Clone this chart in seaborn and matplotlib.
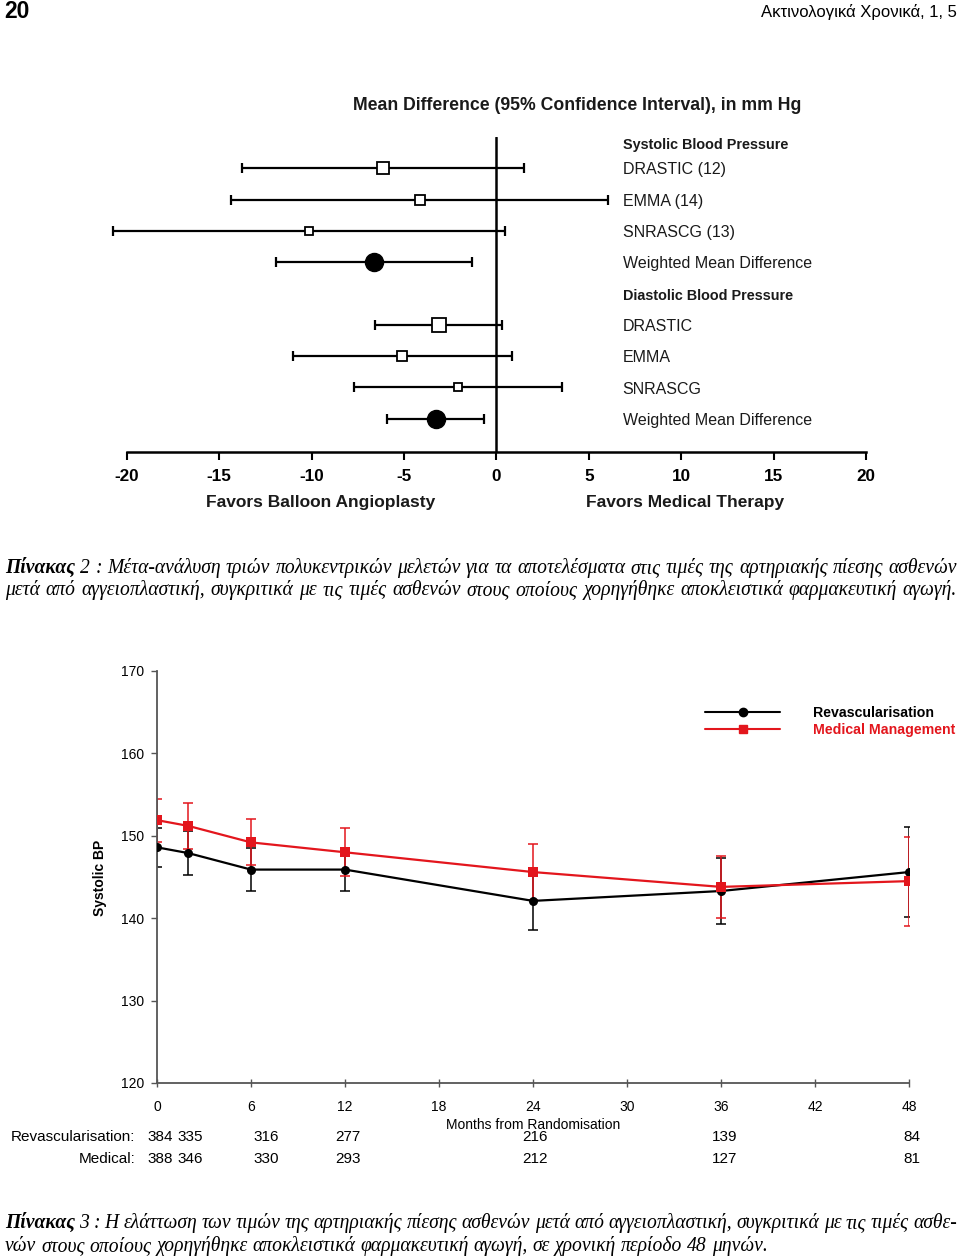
import numpy as np
import pandas as pd
import matplotlib
matplotlib.use("Agg")
import matplotlib.pyplot as plt
import seaborn as sns
from matplotlib.lines import Line2D
from matplotlib.transforms import blended_transform_factory

# ---------------- data ----------------
# Forest plot (meta-analysis)
forest_labels = ["DRASTIC (12)", "EMMA (14)", "SNRASCG (13)", "Weighted Mean Difference",
                 "DRASTIC", "EMMA", "SNRASCG", "Weighted Mean Difference"]
forest_rows = [1, 2, 3, 4, 6, 7, 8, 9]
forest_mean = [-6.15, -4.13, -10.13, -6.61, -3.10, -5.12, -2.09, -3.28]
forest_low = [-13.77, -14.34, -20.76, -11.93, -6.56, -11.01, -7.71, -5.91]
forest_high = [1.48, 6.05, 0.47, -1.32, 0.31, 0.83, 3.53, -0.67]
forest_pooled = [False, False, False, True, False, False, False, True]
forest_headers = ["Systolic Blood Pressure", "Diastolic Blood Pressure"]
forest_header_rows = [0.22, 5.05]
forest_ticks = [-20, -15, -10, -5, 0, 5, 10, 15, 20]
forest_title = "Mean Difference (95% Confidence Interval), in mm Hg"
favors_labels = ["Favors Balloon Angioplasty", "Favors Medical Therapy"]
favors_x = [-9.5, 10.2]

# Systolic BP over time
months = [0, 2, 6, 12, 24, 36, 48]
revasc_mean = [148.6, 147.9, 145.9, 145.9, 142.1, 143.3, 145.6]
revasc_err = [2.4, 2.7, 2.6, 2.6, 3.5, 4.0, 5.5]
medical_mean = [151.9, 151.2, 149.2, 148.0, 145.6, 143.8, 144.5]
medical_err = [2.6, 2.8, 2.8, 2.9, 3.4, 3.8, 5.4]
month_ticks = [0, 6, 12, 18, 24, 30, 36, 42, 48]
sbp_ticks = [120, 130, 140, 150, 160, 170]
risk_months = [0.2, 2.1, 7.0, 12.2, 24.1, 36.2, 48.2]
revasc_n = [384, 335, 316, 277, 216, 139, 84]
medical_n = [388, 346, 330, 293, 212, 127, 81]
group_names = ["Revascularisation", "Medical Management"]
risk_row_labels = ["Revascularisation:", "Medical:"]

caption2 = ["Πίνακας", " 2 : Μέτα-ανάλυση τριών πολυκεντρικών μελετών για τα αποτελέσματα στις τιμές της αρτηριακής πίεσης ασθενών",
            "μετά από αγγειοπλαστική, συγκριτικά με τις τιμές ασθενών στους οποίους χορηγήθηκε αποκλειστικά φαρμακευτική αγωγή."]
caption3 = ["Πίνακας", " 3 : Η ελάττωση των τιμών της αρτηριακής πίεσης ασθενών μετά από αγγειοπλαστική, συγκριτικά με τις τιμές ασθε-",
            "νών στους οποίους χορηγήθηκε αποκλειστικά φαρμακευτική αγωγή, σε χρονική περίοδο 48 μηνών."]
page_number = "20"
journal = "Ακτινολογικά Χρονικά, 1, 5"

# ---------------- style ----------------
sns.set_theme(style="white")
SANS = ["Liberation Sans", "DejaVu Sans"]
NARROW = ["Liberation Sans Narrow", "Liberation Sans", "DejaVu Sans"]
SERIF = ["Liberation Serif", "DejaVu Serif"]
plt.rcParams["font.family"] = SANS
RED = "#e3161d"

W, H = 960, 1257
fig = plt.figure(figsize=(W / 100, H / 100), dpi=100)
fig.patch.set_facecolor("white")


def box(l, t, r, b):
    return [l / W, 1 - b / H, (r - l) / W, (b - t) / H]


def fy(py):
    return 1 - py / H


# ---------------- page header ----------------
fig.text(4 / W, fy(11), page_number, family=NARROW, fontsize=16.5, fontweight="bold",
         ha="left", va="center", color="black")
fig.text(957 / W, fy(12), journal, family=NARROW, fontsize=12, ha="right", va="center",
         color="black")

# ---------------- forest plot ----------------
ax1 = fig.add_axes(box(126.7, 137, 866.3, 452))
ax1.set_xlim(-20, 20)
ax1.set_ylim(10.06, 0)
for s in ["top", "right", "left"]:
    ax1.spines[s].set_visible(False)
ax1.spines["bottom"].set_linewidth(1.8)
ax1.spines["bottom"].set_color("black")
ax1.axvline(0, color="black", lw=1.8, zorder=1)

fp = pd.DataFrame({"label": forest_labels, "row": forest_rows, "mean": forest_mean,
                   "low": forest_low, "high": forest_high, "pooled": forest_pooled})
eb = ax1.errorbar(fp["mean"], fp["row"],
                  xerr=[fp["mean"] - fp["low"], fp["high"] - fp["mean"]],
                  fmt="none", ecolor="black", elinewidth=1.6, capsize=3.8, capthick=1.6,
                  zorder=2)
for art in eb.lines[1] + eb.lines[2]:
    art.set_clip_on(False)
marker_pts = [8.9, 7.2, 6.0, 13.0, 10.3, 6.5, 6.0, 13.0]
for (_, r), ms in zip(fp.iterrows(), marker_pts):
    if r["pooled"]:
        ax1.plot(r["mean"], r["row"], marker="o", ms=ms, mfc="black", mec="black", zorder=3)
    else:
        ax1.plot(r["mean"], r["row"], marker="s", ms=ms, mfc="white", mec="black",
                 mew=1.3, zorder=3)

for lab, row in zip(forest_labels, forest_rows):
    ax1.text(6.82, row + 0.05, lab, fontsize=11.5, ha="left", va="center", color="#1a1a1a")
for lab, row in zip(forest_headers, forest_header_rows):
    ax1.text(6.82, row + 0.03, lab, fontsize=10.4, fontweight="bold", ha="left",
             va="center", color="#1a1a1a")

ax1.set_yticks([])
ax1.set_xticks(forest_ticks)
ax1.set_xticklabels([str(t) for t in forest_ticks], fontsize=12.3, fontweight="bold")
ax1.tick_params(axis="x", direction="out", length=6, width=1.5, pad=6.5, colors="black",
                bottom=True)
for lab, xv in zip(favors_labels, favors_x):
    ax1.text(xv, 10.06 + 1.6, lab, fontsize=12.5, fontweight="bold", ha="center",
             va="center", color="#1a1a1a", clip_on=False)
fig.text(577 / W, fy(105), forest_title, fontsize=12.7, fontweight="bold", ha="center",
         va="center", color="#1a1a1a")

# ---------------- systolic BP over time ----------------
ax2 = fig.add_axes(box(157, 671, 909, 1083))
bp = pd.DataFrame({
    "month": months + months,
    "sbp": revasc_mean + medical_mean,
    "group": [group_names[0]] * len(months) + [group_names[1]] * len(months),
})
ax2.errorbar(months, revasc_mean, yerr=revasc_err, fmt="none", ecolor="black",
             elinewidth=1.1, capsize=3.5, capthick=1.1, zorder=2)
ax2.errorbar(months, medical_mean, yerr=medical_err, fmt="none", ecolor=RED,
             elinewidth=1.1, capsize=3.5, capthick=1.1, zorder=2)
sns.lineplot(data=bp, x="month", y="sbp", hue="group", style="group",
             palette={group_names[0]: "black", group_names[1]: RED},
             markers={group_names[0]: "o", group_names[1]: "s"}, dashes=False,
             markersize=6.5, markeredgewidth=0, linewidth=1.6, legend=False,
             errorbar=None, ax=ax2, zorder=3)
ax2.set_xlim(0, 48)
ax2.set_ylim(120, 170)
for s in ["top", "right"]:
    ax2.spines[s].set_visible(False)
for s in ["left", "bottom"]:
    ax2.spines[s].set_color("#555555")
    ax2.spines[s].set_linewidth(1.3)
ax2.set_xticks(month_ticks)
ax2.set_xticklabels([str(m) for m in month_ticks], fontsize=10)
ax2.set_yticks(sbp_ticks)
ax2.set_yticklabels([str(v) for v in sbp_ticks], fontsize=10)
ax2.tick_params(axis="x", direction="inout", length=6, width=1.0, colors="#555555",
                labelcolor="black", pad=9.5, bottom=True)
ax2.tick_params(axis="y", direction="out", length=4, width=1.0, colors="#555555",
                labelcolor="black", pad=5, left=True)
ax2.set_xlabel("")
ax2.set_ylabel("")
fig.text(100 / W, fy(878), "Systolic BP", rotation=90, fontsize=10, fontweight="bold",
         ha="center", va="center", color="black")

tr = blended_transform_factory(ax2.transData, fig.transFigure)
ax2.text(24, fy(1125), "Months from Randomisation", transform=tr, fontsize=10,
         ha="center", va="center", color="black")
for rowlab, ns, py in [(risk_row_labels[0], revasc_n, 1137), (risk_row_labels[1], medical_n, 1159)]:
    fig.text(135 / W, fy(py), rowlab, fontsize=11, ha="right", va="center", color="black")
    for m, n in zip(risk_months, ns):
        ax2.text(m, fy(py), str(n), transform=tr, fontsize=11, ha="center", va="center",
                 color="black", clip_on=False)

handles = [Line2D([], [], color="black", marker="o", lw=1.5, ms=6),
           Line2D([], [], color=RED, marker="s", lw=1.5, ms=6, mec=RED)]
leg = ax2.legend(handles, group_names, loc="upper left",
                 bbox_to_anchor=(705 / W, fy(706)), bbox_transform=fig.transFigure,
                 frameon=False, handlelength=5.3, handletextpad=2.3, labelspacing=0.22,
                 borderpad=0, borderaxespad=0, numpoints=1,
                 prop={"weight": "bold", "size": 10.2, "family": SANS})
leg.get_texts()[0].set_color("black")
leg.get_texts()[1].set_color(RED)

# ---------------- captions ----------------
renderer = fig.canvas.get_renderer()
LEFT, RIGHT = 5, 957


def text_width(s, size, weight="normal"):
    t = fig.text(0, 0, s, family=SERIF, style="italic", fontsize=size, fontweight=weight)
    w = t.get_window_extent(renderer).width
    t.remove()
    return w


# choose font size from the non-justified last line of caption 3 (ends near x=773)
base = 12.0
nat = text_width(caption3[2], base)
CAP_SIZE = base * (768 - LEFT) / nat


def place_words(pieces, py, justify):
    words = []
    for txt, wt in pieces:
        for w in txt.split(" "):
            if w == "":
                continue
            words.append((w, wt))
    widths = [text_width(w, CAP_SIZE, wt) for w, wt in words]
    space = text_width("a a", CAP_SIZE) - text_width("aa", CAP_SIZE)
    if justify and len(words) > 1:
        gap = (RIGHT - LEFT - sum(widths)) / (len(words) - 1)
    else:
        gap = space
    x = LEFT
    for (w, wt), wd in zip(words, widths):
        fig.text(x / W, fy(py), w, family=SERIF, style="italic", fontsize=CAP_SIZE,
                 fontweight=wt, ha="left", va="baseline", color="black")
        x += wd + gap


place_words([(caption2[0], "bold"), (caption2[1], "normal")], 573, True)
place_words([(caption2[2], "normal")], 595, True)
place_words([(caption3[0], "bold"), (caption3[1], "normal")], 1228, True)
place_words([(caption3[2], "normal")], 1251, False)

fig.savefig("out.png", dpi=100, facecolor="white")
